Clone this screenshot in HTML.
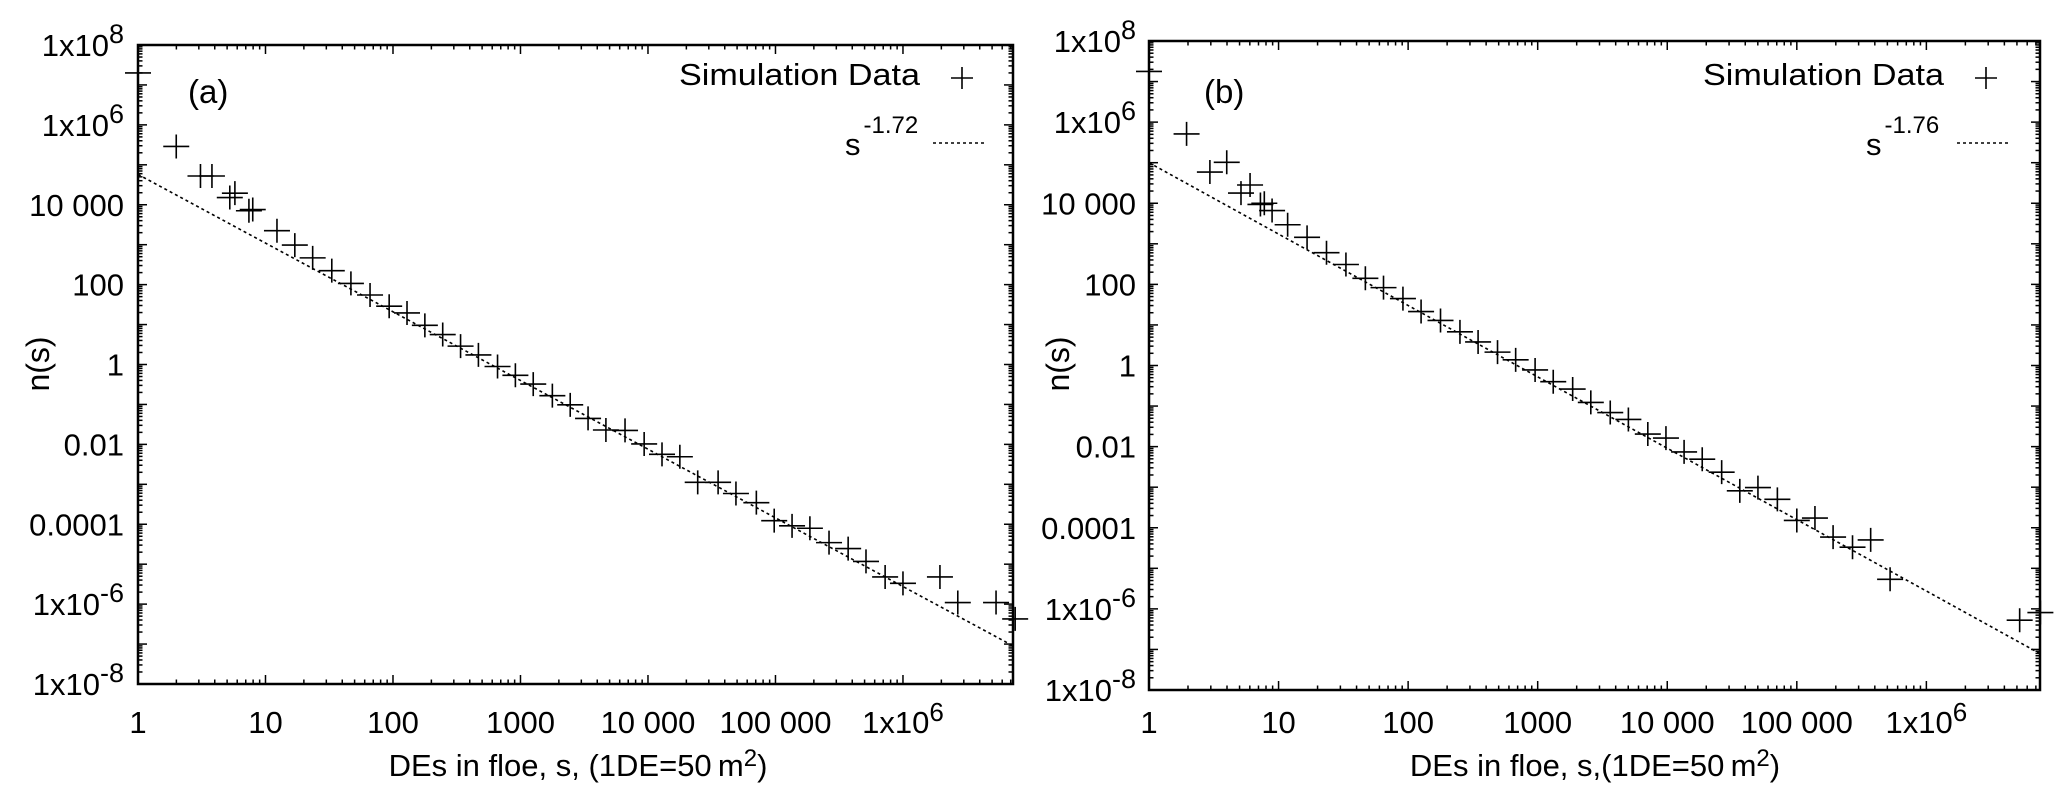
<!DOCTYPE html>
<html><head><meta charset="utf-8"><style>
html,body{margin:0;padding:0;background:#fff;}
svg{display:block;font-family:"Liberation Sans",Arial,sans-serif;}
</style></head><body>
<svg id="fig" width="2067" height="800" viewBox="0 0 2067 800" xmlns="http://www.w3.org/2000/svg"></svg>
<script>
// Panel (a) data: log10 of s and log10 of n(s)
const aLogS = [0,0.30,0.49,0.58,0.72,0.76,0.87,0.90,1.09,1.23,1.37,1.52,1.67,1.82,1.97,2.11,2.25,2.39,2.53,2.67,2.82,2.96,3.10,3.25,3.39,3.53,3.67,3.82,3.97,4.11,4.25,4.39,4.55,4.69,4.85,4.99,5.13,5.27,5.42,5.57,5.71,5.86,6.00,6.29,6.43,6.73,6.88];
const aLogN = [7.30,5.46,4.72,4.72,4.18,4.29,3.85,3.88,3.35,2.99,2.67,2.35,2.03,1.74,1.46,1.29,0.98,0.75,0.46,0.24,-0.05,-0.27,-0.49,-0.78,-1.01,-1.35,-1.64,-1.65,-1.99,-2.25,-2.31,-2.95,-2.95,-3.23,-3.46,-3.91,-4.04,-4.10,-4.46,-4.61,-4.93,-5.32,-5.48,-5.32,-5.96,-5.96,-6.37];
const aFitExp = -1.72;
const aFitLogC = 4.76;
// Panel (b) data
const bLogS = [0,0.29,0.47,0.60,0.71,0.78,0.86,0.89,0.95,1.07,1.22,1.37,1.52,1.67,1.81,1.96,2.10,2.25,2.40,2.54,2.69,2.83,2.98,3.12,3.27,3.41,3.56,3.70,3.85,3.99,4.13,4.27,4.42,4.56,4.70,4.85,5.00,5.14,5.28,5.43,5.57,5.72,6.72,6.88];
const bLogN = [7.25,5.71,4.77,5.01,4.25,4.45,3.97,4.00,3.82,3.47,3.16,2.78,2.49,2.15,1.92,1.65,1.33,1.11,0.83,0.58,0.33,0.14,-0.11,-0.40,-0.58,-0.91,-1.16,-1.33,-1.69,-1.79,-2.13,-2.31,-2.63,-3.09,-3.01,-3.30,-3.82,-3.76,-4.23,-4.48,-4.30,-5.27,-6.28,-6.09];
const bFitExp = -1.76;
const bFitLogC = 5.0;
const xTickLabels = ["1","10","100","1000","10 000","100 000","1x10^6"];
const yTickLabels = ["1x10^8","1x10^6","10 000","100","1","0.01","0.0001","1x10^-6","1x10^-8"];

const NS="http://www.w3.org/2000/svg";
const svg=document.getElementById('fig');
function mk(tag,attrs,parent){const e=document.createElementNS(NS,tag);for(const k in attrs)e.setAttribute(k,attrs[k]);(parent||svg).appendChild(e);return e;}

function panel(cfg){
  const g=mk('g',{});
  
  
  const L=cfg.left,R=cfg.right,T=cfg.top,B=cfg.bottom,xMax=cfg.xMax;
  const X=v=>L+(v/xMax)*(R-L);
  const Y=v=>T+(8-v)/16*(B-T);
  // ticks
  const tk=mk('g',{stroke:'#000','stroke-width':1.5},g);
  
  
  for(let d=0;d<7;d++){
    for(let m=1;m<10;m++){
      const v=d+Math.log10(m); if(v>xMax) break;
      const len=m===1?9:4.5; const x=X(v);
      mk('line',{x1:x,y1:B,x2:x,y2:B-len},tk);
      mk('line',{x1:x,y1:T,x2:x,y2:T+len},tk);
    }
  }
  for(let d=-8;d<8;d++){
    for(let m=1;m<10;m++){
      const v=d+Math.log10(m); const y=Y(v);
      const len=m===1?9:4.5;
      mk('line',{x1:L,y1:y,x2:L+len,y2:y},tk);
      mk('line',{x1:R,y1:y,x2:R-len,y2:y},tk);
    }
  }
  mk('line',{x1:L,y1:Y(8),x2:L+9,y2:Y(8)},tk);
  mk('line',{x1:R,y1:Y(8),x2:R-9,y2:Y(8)},tk);
  // frame
  const fr=mk('rect',{x:L,y:T,width:R-L,height:B-T,fill:'none',stroke:'#000','stroke-width':2.5},g);
  
  
  // x tick labels
  xTickLabels.forEach((lab,i)=>{
    const t=mk('text',{x:X(i),y:733,'font-size':31,'text-anchor':'middle'},g);
    
    
    if(lab.indexOf('^')>=0){const p=lab.split('^');t.textContent=p[0];const s=mk('tspan',{dy:-12,'font-size':26},t);s.textContent=p[1];}
    else t.textContent=lab;
  });
  yTickLabels.forEach((lab,i)=>{
    const v=8-2*i;
    const t=mk('text',{x:cfg.yLabRight,y:Y(v)+11,'font-size':31,'text-anchor':'end'},g);
    
    
    if(lab.indexOf('^')>=0){const p=lab.split('^');t.textContent=p[0];const s=mk('tspan',{dy:-13,'font-size':27},t);s.textContent=p[1];}
    else t.textContent=lab;
  });
  // fit line
  const x0=0,x1=xMax;
  const fit=mk('line',{x1:X(x0),y1:Y(cfg.fitC+cfg.fitExp*x0),x2:X(x1),y2:Y(cfg.fitC+cfg.fitExp*x1),stroke:'#000','stroke-width':1.6,'stroke-dasharray':'3,3'},g);
  
  
  // points
  const pg=mk('g',{stroke:'#000','stroke-width':1.6},g);
  
  
  cfg.xs.forEach((sv,i)=>{
    const cx=X(sv),cy=Y(cfg.ys[i]);
    const p=mk('path',{d:`M${cx-13} ${cy}H${cx+13}M${cx} ${cy-12}V${cy+12}`},pg);
    
    
  });
  // panel tag
  const tag=mk('text',{x:cfg.tagX,y:103,'font-size':33},g);
  
  
  tag.textContent=cfg.tag;
  // legend
  const lt=mk('text',{x:cfg.legRight,y:85,'font-size':31,'text-anchor':'end',textLength:241,lengthAdjust:'spacingAndGlyphs'},g);
  
  
  lt.textContent='Simulation Data';
  const lp=mk('path',{d:`M${cfg.legPlus-11} 78H${cfg.legPlus+11}M${cfg.legPlus} 67V89`,stroke:'#000','stroke-width':1.6},g);
  
  
  const ls=mk('text',{x:cfg.legS,y:155,'font-size':31},g);
  
  
  ls.textContent='s';
  const sup=mk('tspan',{dy:-22,dx:3,'font-size':24},ls); sup.textContent=cfg.expText;
  const ll=mk('line',{x1:cfg.legLine,y1:143,x2:cfg.legLine+53,y2:143,stroke:'#000','stroke-width':1.6,'stroke-dasharray':'3,3'},g);
  
  
  // axis titles
  const xt=mk('text',{x:cfg.xTitleX,y:776,'font-size':31,'text-anchor':'middle'},g);
  
  
  xt.textContent=cfg.xTitle;
  const m2=mk('tspan',{dy:-10,'font-size':24},xt); m2.textContent='2';
  const m3=mk('tspan',{dy:10},xt); m3.textContent=')';
  const yt=mk('text',{x:0,y:0,'font-size':32,'text-anchor':'middle',transform:`translate(${cfg.yTitleX},364) rotate(-90)`},g);
  
  
  yt.textContent='n(s)';
}
panel({name:'panel-a',left:138,right:1013,top:45,bottom:684,xMax:6.863,xs:aLogS,ys:aLogN,fitExp:aFitExp,fitC:aFitLogC,
  yLabRight:124,tag:'(a)',tagX:188,legRight:920,legPlus:962,legS:845,legLine:933,expText:'-1.72',
  xTitleX:578,xTitle:'DEs in floe, s, (1DE=50\u2009m',yTitleX:49});
panel({name:'panel-b',left:1149,right:2040,top:41,bottom:690,xMax:6.877,xs:bLogS,ys:bLogN,fitExp:bFitExp,fitC:bFitLogC,
  yLabRight:1136,tag:'(b)',tagX:1204,legRight:1944,legPlus:1986,legS:1866,legLine:1957,expText:'-1.76',
  xTitleX:1595,xTitle:'DEs in floe, s,(1DE=50\u2009m',yTitleX:1069});
</script>
</body></html>
